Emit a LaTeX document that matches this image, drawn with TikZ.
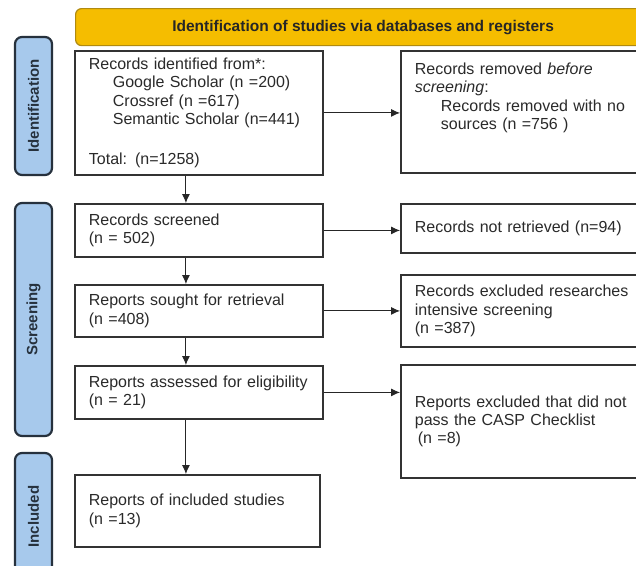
\documentclass[tikz,border=0pt]{standalone}
\usepackage{fontspec}
\setmainfont{Liberation Sans}
\usetikzlibrary{arrows.meta}
\definecolor{gold}{HTML}{F5BD00}
\definecolor{golddark}{HTML}{B08A10}
\definecolor{lblue}{HTML}{A7C9EC}
\definecolor{navy}{HTML}{26313D}
\definecolor{boxline}{HTML}{333333}
\definecolor{txt}{HTML}{2A2A2A}
\tikzset{
  box/.style={draw=boxline, line width=1.8pt, fill=white, anchor=north west, align=left,
    inner xsep=14pt, inner ysep=0pt, font=\fontsize{16}{18.4}\selectfont, text=txt},
  phase/.style={draw=navy, line width=2.2pt, fill=lblue, rounded corners=7pt, rotate=90,
    font=\fontsize{15}{18}\selectfont\bfseries, text=navy, inner sep=0pt, minimum height=37pt},
  banner/.style={draw=golddark, fill=gold, rounded corners=6pt, line width=1.2pt, anchor=north west,
    font=\fontsize{15.5}{18}\selectfont\bfseries, text=black!85, inner sep=0pt},
  arr/.style={-{Latex[length=9pt,width=8pt]}, line width=0.9pt, draw=black!85}
}
\begin{document}
\begin{tikzpicture}[x=1pt,y=-1pt]
\useasboundingbox (0,0) rectangle (636,565);
\clip (0,0) rectangle (636,565);
\fill[white] (0,0) rectangle (636,565);

\node[banner, minimum width=575pt, minimum height=37pt] (ban) at (75,8)
  {Identification of studies via databases and registers};

\node[phase, minimum width=138pt] (p1) at (33.5,106) {Identification};
\node[phase, minimum width=233pt] (p2) at (33.5,319.5) {Screening};
\node[phase, minimum width=127pt] (p3) at (33.5,516.5) {Included};

\node[box, text width=220pt, minimum width=248pt, minimum height=124pt] (b1) at (74,50)
  {Records identified from*:\\
   \hspace*{24pt}Google Scholar (n =200)\\
   \hspace*{24pt}Crossref (n =617)\\
   \hspace*{24pt}Semantic Scholar (n=441)\\[22pt]
   Total: (n=1258)};
\node[box, text width=222pt, minimum width=250pt, minimum height=122pt] (r1) at (400,50)
  {Records removed \textit{before}\\
   \textit{screening}:\\
   \hspace*{26pt}Records removed with no\\
   \hspace*{26pt}sources (n =756 )\\[12.6pt]
   \mbox{}};

\node[box, text width=220pt, minimum width=248pt, minimum height=53pt] (b2) at (74,203)
  {Records screened\\(n = 502)};
\node[box, text width=222pt, minimum width=250pt, minimum height=49pt] (r2) at (400,203)
  {Records not retrieved (n=94)};

\node[box, text width=220pt, minimum width=248pt, minimum height=52pt] (b3) at (74,284)
  {Reports sought for retrieval\\(n =408)};
\node[box, text width=222pt, minimum width=250pt, minimum height=72pt] (r3) at (400,274)
  {Records excluded researches\\intensive screening\\(n =387)};

\node[box, text width=220pt, minimum width=248pt, minimum height=53pt] (b4) at (74,365)
  {Reports assessed for eligibility\\(n = 21)};
\node[box, text width=222pt, minimum width=250pt, minimum height=113pt] (r4) at (400,364)
  {Reports excluded that did not\\pass the CASP Checklist\\\hspace*{3pt}(n =8)};

\node[box, text width=217pt, minimum width=245pt, minimum height=72pt] (b5) at (74,474)
  {Reports of included studies\\(n =13)};

\draw[arr] (b1.east) -- (b1.east -| r1.west);
\draw[arr] (b2.east) -- (b2.east -| r2.west);
\draw[arr] (b3.east) -- (b3.east -| r3.west);
\draw[arr] (b4.east) -- (b4.east -| r4.west);

\draw[arr] ([xshift=-13pt]b1.south) -- ([xshift=-13pt]b1.south |- b2.north);
\draw[arr] ([xshift=-13pt]b2.south) -- ([xshift=-13pt]b2.south |- b3.north);
\draw[arr] ([xshift=-13pt]b3.south) -- ([xshift=-13pt]b3.south |- b4.north);
\draw[arr] ([xshift=-13pt]b4.south) -- ([xshift=-13pt]b4.south |- b5.north);
\end{tikzpicture}
\end{document}
